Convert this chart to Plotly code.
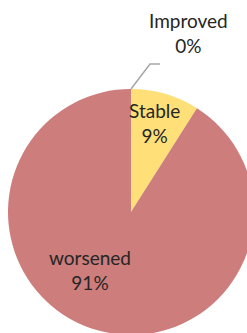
import plotly.graph_objects as go

categories = ["Improved", "Stable", "worsened"]
values = [0, 9, 91]
colors = ["#FFFFFF", "#FFDF78", "#CC7D7C"]

W, H = 254, 340
cx, cy, r = 131, 212, 123

fig = go.Figure(go.Pie(
    labels=categories,
    values=values,
    sort=False,
    direction="clockwise",
    rotation=0,
    marker=dict(colors=colors, line=dict(width=0)),
    textinfo="none",
    hoverinfo="label+percent",
    showlegend=False,
    domain=dict(x=[(cx - r) / W, min(1, (cx + r) / W)],
                y=[(H - (cy + r)) / H, (H - (cy - r)) / H]),
))

font = dict(family="Lato, Open Sans, sans-serif", size=19, color="#262626")
label_pos = {
    "Improved": (188, 33),
    "Stable": (154, 123),
    "worsened": (90, 270),
}
for cat, v in zip(categories, values):
    px, py = label_pos[cat]
    fig.add_annotation(
        x=px / W, y=1 - py / H, xref="paper", yref="paper",
        text=f"{cat}<br>{v}%", showarrow=False, font=font,
        xanchor="center", yanchor="middle",
    )

# leader line for the Improved label
fig.add_shape(type="path", xref="paper", yref="paper",
              path=f"M {131/W},{1-89/H} L {150/W},{1-64/H} L {160/W},{1-64/H}",
              line=dict(color="#A6A6A6", width=1.5))

fig.update_layout(
    width=W, height=H, autosize=False,
    margin=dict(l=0, r=0, t=0, b=0),
    paper_bgcolor="white", plot_bgcolor="white",
)

fig.write_html("out.html", config={"displayModeBar": False},
               post_script="document.body.style.margin='0';document.body.style.overflow='hidden';")
